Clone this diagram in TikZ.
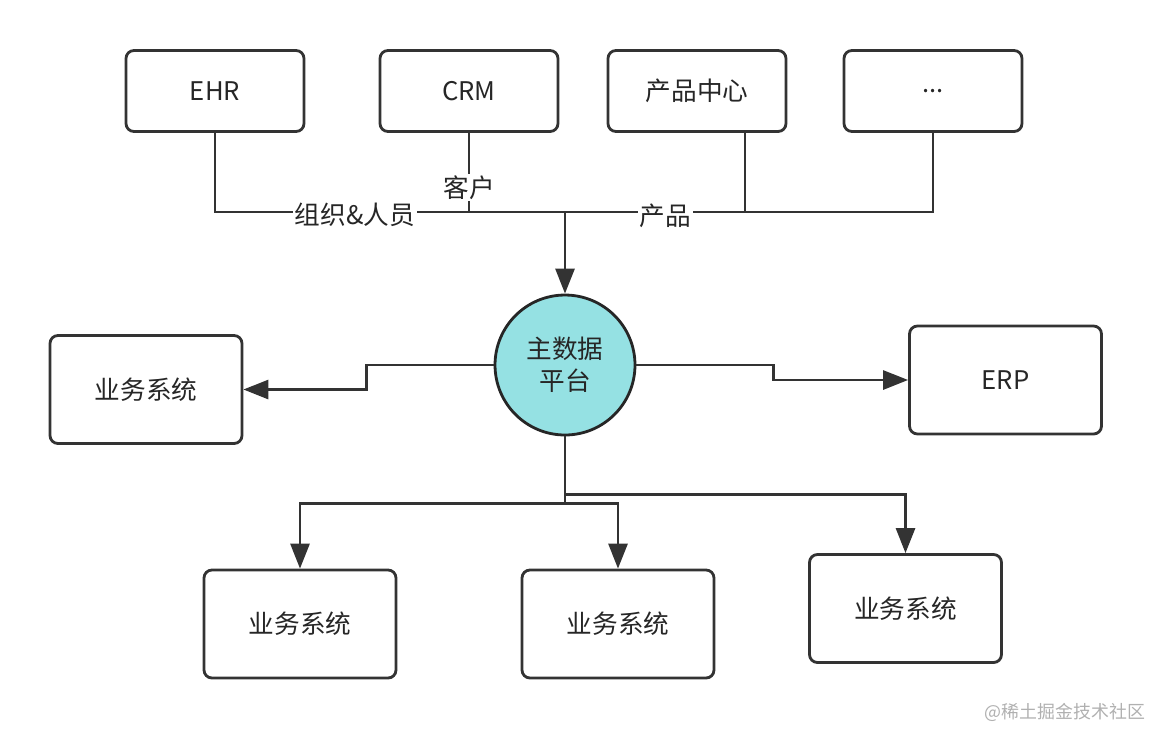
\documentclass[tikz,border=0pt]{standalone}
\usepackage{fontspec}
\setmainfont{Noto Sans CJK SC}
\usetikzlibrary{arrows.meta, positioning, calc}
\definecolor{linegray}{HTML}{333333}
\definecolor{mdmcyan}{HTML}{95E1E3}
\definecolor{markgray}{HTML}{B0B0B0}

\begin{document}
\begin{tikzpicture}[
    x=0.02cm, y=-0.02cm,
    every node/.style={font=\fontsize{14.6}{18}\selectfont, text=black!85},
    box/.style={draw=linegray, rounded corners=4.5pt, line width=1.6pt, minimum width=3.56cm, minimum height=1.62cm, align=center, fill=white},
    bizbox/.style={box, minimum width=3.84cm, minimum height=2.16cm},
    hubnode/.style={circle, draw=black!85, fill=mdmcyan, line width=1.6pt, minimum size=2.8cm, inner sep=0pt, align=center},
    link/.style={draw=linegray, line width=1.6pt},
    arrow/.style={link, -{Triangle[length=5mm, width=3.8mm]}},
    tag/.style={fill=white, inner sep=1pt}
]
    \useasboundingbox (0,0) rectangle (1152,728);

    % source systems
    \node[box] (ehr) at (215,91) {EHR};
    \node[box] (crm) at (469,91) {CRM};
    \node[box] (prod) at (697,91) {产品中心};
    \node[box] (more) at (933,91) {...};

    % master data platform
    \node[hubnode] (mdm) at (565,365) {主数据\\平台};
    \coordinate (hub) at (565,212);

    % consumers
    \node[bizbox] (biz1) at (146,389.5) {业务系统};
    \node[bizbox] (erp) at (1005.5,380) {ERP};
    \node[bizbox] (biz2) at (300,624) {业务系统};
    \node[bizbox] (biz3) at (618,624) {业务系统};
    \node[bizbox] (biz4) at (905.5,608.5) {业务系统};

    % inputs
    \draw[link] (ehr.south) |- (hub) node[tag, pos=0.7, yshift=-0.05cm] {组织\&人员};
    \draw[link] (more.south) |- (hub) node[tag, pos=0.864, yshift=-0.07cm] {产品};
    \draw[link] ([xshift=0.96cm]prod.south) -- ([xshift=0.96cm]prod.south |- hub);
    \draw[link] (crm.south) -- (crm.south |- hub) node[tag, pos=0.69] {客户};
    \draw[arrow] (hub) -- (mdm);

    % outputs
    \draw[arrow] (mdm.west) -- ++(-127,0) |- (biz1.east);
    \draw[arrow] (mdm.east) -- ++(137,0) |- (erp.west);
    \draw[arrow] (mdm.south) -- ++(0,58) -| (biz4.north);
    \draw[arrow] (mdm.south) -- ++(0,67) -| (biz2.north);
    \draw[arrow] (mdm.south) -- ++(0,67) -| (biz3.north);

    \node[font=\fontsize{10.2}{12}\selectfont, text=markgray] (mark) at (1065,712) {@稀土掘金技术社区};
\end{tikzpicture}
\end{document}
